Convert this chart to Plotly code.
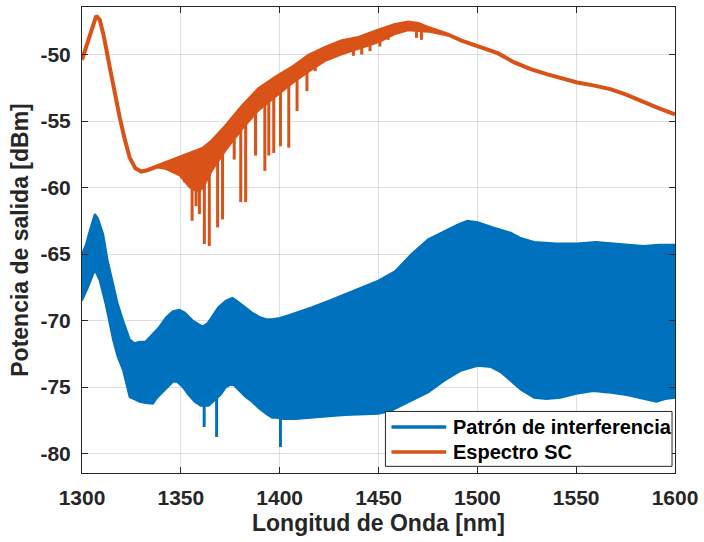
import numpy as np
import plotly.graph_objects as go

# ---------------- data ----------------
# Blue: interference pattern (dense fringes -> drawn as band between envelopes)
blue_up_x = [1300, 1302, 1304, 1306.5, 1308, 1310.7, 1313, 1315.8, 1318, 1320.8, 1324.1, 1326.5,
             1329.2, 1332, 1335.9, 1339, 1342.6, 1346, 1349.3, 1352, 1356, 1361, 1363.5, 1366.1,
             1369, 1372.8, 1376.1, 1379, 1382.8, 1386, 1389.5, 1393, 1396.2, 1400, 1404.6, 1416.4,
             1425, 1433.1, 1441, 1449.9, 1458.3, 1466.7, 1475.1, 1483.5, 1490, 1495, 1500.2, 1508,
             1516.9, 1522, 1528.7, 1540, 1550.5, 1560, 1567.3, 1575, 1584, 1592, 1600]
blue_up_y = [-65.0, -64.3, -63.2, -62.0, -62.3, -63.5, -65.5, -67.25, -68.7, -70.0, -71.4, -71.7,
             -71.6, -71.6, -71.0, -70.5, -69.75, -69.3, -69.2, -69.4, -70.0, -70.45, -70.2, -69.6,
             -69.0, -68.5, -68.3, -68.6, -69.0, -69.4, -69.7, -69.9, -69.9, -69.8, -69.6, -69.0,
             -68.5, -68.0, -67.5, -67.0, -66.3, -65.0, -63.9, -63.25, -62.8, -62.5, -62.6, -63.0,
             -63.4, -63.8, -64.1, -64.2, -64.2, -64.1, -64.2, -64.3, -64.4, -64.3, -64.3]
blue_lo_x = [1300, 1303, 1306.5, 1309, 1312, 1315.8, 1318, 1320.8, 1324.1, 1329.2, 1332, 1335.9,
             1338, 1342.6, 1346, 1348, 1351, 1354, 1357, 1360, 1364, 1370, 1372.8, 1376.1, 1379,
             1382.8, 1386, 1389.5, 1393, 1396.2, 1398.5, 1402, 1408, 1416.4, 1425, 1433.1, 1441,
             1449.9, 1456, 1462, 1475.1, 1483.5, 1491.9, 1500.3, 1506.9, 1512, 1516.9, 1522,
             1528.7, 1535, 1542, 1550, 1558.7, 1566, 1575.5, 1584, 1590.6, 1595, 1600]
blue_lo_y = [-68.5, -67.5, -66.2, -67.0, -68.8, -71.5, -72.7, -73.75, -75.75, -76.1, -76.2, -76.25,
             -75.8, -75.1, -74.6, -74.6, -75.0, -75.6, -76.1, -76.4, -76.4, -75.6, -75.0, -74.75,
             -75.2, -75.75, -76.1, -76.6, -77.0, -77.3, -77.3, -77.4, -77.4, -77.3, -77.2, -77.1,
             -77.05, -77.0, -76.8, -76.4, -75.4, -74.5, -73.75, -73.4, -73.5, -73.9, -74.5, -75.2,
             -75.8, -75.9, -75.8, -75.5, -75.3, -75.4, -75.6, -75.9, -76.1, -75.9, -75.8]
# narrow dips of the blue trace: wavelength, start level, bottom level
blue_dip_x = [1361.8, 1368.1, 1400.4]
blue_dip_from = [-76.2, -75.8, -77.2]
blue_dip_to = [-78.0, -78.75, -79.5]

# Orange: supercontinuum spectrum (top trace)
sc_x = [1300.0, 1302.0, 1304.5, 1307.2, 1309.0, 1311.0, 1314.1, 1316.5, 1319.1, 1321.5, 1324.1,
        1327.0, 1330.0, 1333.0, 1337.5, 1341.0, 1345.0, 1349.3, 1354.3, 1361.0, 1366.0, 1372.8,
        1381.2, 1389.5, 1397.9, 1406.3, 1414.7, 1423.1, 1431.5, 1439.9, 1449.9, 1458.0, 1465.0,
        1470.0, 1475.1, 1485.1, 1492.0, 1500.2, 1510.3, 1518.7, 1527.0, 1535.5, 1543.0, 1550.5,
        1558.0, 1567.3, 1575.0, 1582.4, 1591.0, 1600.0]
sc_y = [-50.4, -49.5, -48.3, -47.1, -47.4, -48.6, -51.0, -52.9, -54.75, -56.3, -57.75,
        -58.55, -58.8, -58.7, -58.45, -58.25, -58.0, -57.8, -57.55, -57.1, -56.5, -55.4,
        -53.9, -52.6, -51.75, -51.0, -50.1, -49.5, -49.0, -48.75, -48.2, -47.8, -47.6,
        -47.7, -48.0, -48.5, -48.95, -49.4, -49.9, -50.6, -51.1, -51.5, -51.8, -52.1,
        -52.3, -52.6, -53.0, -53.5, -54.0, -54.5]
# lower edge of the fringe region of the SC spectrum
sc_lo_x = [1337.5, 1342, 1346, 1349.3, 1354.3, 1358, 1361, 1366, 1372.8, 1381.2, 1389.5, 1397.9,
           1406.3, 1414.7, 1423.1, 1431.5, 1439.9, 1449.9, 1458, 1465, 1475.1, 1485.1]
sc_lo_y = [-58.5, -58.6, -58.9, -59.1, -60.0, -60.3, -60.1, -58.7, -57.2, -55.6, -54.2, -53.2,
           -52.2, -51.3, -50.5, -50.0, -49.6, -49.1, -48.5, -48.2, -48.3, -48.6]
# deep dips of the SC spectrum
sc_dip_x = [1351.8, 1355.7, 1357.7, 1359.4, 1361.9, 1364.4, 1368.6, 1371.1, 1377.0, 1380.3,
            1382.8, 1387.8, 1392.5, 1394.5, 1397.0, 1400.4, 1404.6, 1408.8, 1413.8, 1418.0,
            1437.3, 1441.5, 1445.7, 1450.7, 1454.9, 1469.2, 1471.7]
sc_dip_from = [-58.0, -57.6, -57.4, -57.3, -57.0, -56.8, -56.2, -55.7, -54.7, -54.1,
               -53.7, -52.9, -52.3, -52.1, -51.8, -51.5, -51.1, -50.7, -50.2, -49.8,
               -48.8, -48.6, -48.4, -48.2, -48.0, -47.6, -47.7]
sc_dip_to = [-59.6, -62.5, -61.4, -62.0, -64.25, -64.4, -63.0, -62.4, -57.9, -61.1,
             -61.1, -57.6, -58.75, -57.6, -57.4, -56.9, -57.0, -54.25, -52.75, -51.25,
             -50.1, -50.0, -49.75, -49.4, -48.9, -48.75, -48.9]

x_ticks = [1300, 1350, 1400, 1450, 1500, 1550, 1600]
y_ticks = [-80, -75, -70, -65, -60, -55, -50]
y_tick_text = ["-80", "-75", "-70", "-65", "-60", "-55", "-50"]
names = ["Patrón de interferencia", "Espectro SC"]
x_title = "Longitud de Onda [nm]"
y_title = "Potencia de salida [dBm]"

# ---------------- styling ----------------
BLUE = "#0072BD"
ORANGE = "#D95319"
AX = "#262626"
FONT = "Liberation Sans, Arial, sans-serif"


def segs(xs, a, b):
    X, Y = [], []
    for x, y0, y1 in zip(xs, a, b):
        X += [x, x, None]
        Y += [y0, y1, None]
    return X, Y


fig = go.Figure()

# blue band
fig.add_trace(go.Scatter(
    x=blue_up_x + blue_lo_x[::-1], y=blue_up_y + blue_lo_y[::-1],
    mode="lines", fill="toself", fillcolor=BLUE,
    line=dict(color=BLUE, width=2), showlegend=False, hoverinfo="skip"))
bx, by = segs(blue_dip_x, blue_dip_from, blue_dip_to)
fig.add_trace(go.Scatter(x=bx, y=by, mode="lines", line=dict(color=BLUE, width=3),
                         showlegend=False, hoverinfo="skip"))

# orange fringe region
sx = np.array(sc_x)
sy = np.array(sc_y)
m = (sx >= sc_lo_x[0]) & (sx <= sc_lo_x[-1])
fig.add_trace(go.Scatter(
    x=list(sx[m]) + sc_lo_x[::-1], y=list(sy[m]) + sc_lo_y[::-1],
    mode="lines", fill="toself", fillcolor=ORANGE,
    line=dict(color=ORANGE, width=1.5), showlegend=False, hoverinfo="skip"))
ox, oy = segs(sc_dip_x, sc_dip_from, sc_dip_to)
fig.add_trace(go.Scatter(x=ox, y=oy, mode="lines", line=dict(color=ORANGE, width=3),
                         showlegend=False, hoverinfo="skip"))
fig.add_trace(go.Scatter(x=sc_x, y=sc_y, mode="lines", line=dict(color=ORANGE, width=4),
                         showlegend=False, hoverinfo="skip"))

axis_common = dict(
    showline=True, linecolor=AX, linewidth=1, mirror="ticks",
    ticks="inside", ticklen=6, tickcolor=AX, tickwidth=1,
    showgrid=True, gridcolor="rgba(38,38,38,0.15)", gridwidth=1,
    zeroline=False,
    tickfont=dict(family=FONT, size=21, color=AX, weight="bold"),
)

fig.update_xaxes(range=[1300, 1600], tickvals=x_ticks, ticklabelstandoff=6,
                 title=dict(text=x_title, font=dict(family=FONT, size=23, color=AX, weight="bold"),
                            standoff=6),
                 **axis_common)
fig.update_yaxes(range=[-81.46, -46.43], tickvals=y_ticks, ticktext=y_tick_text,
                 ticklabelstandoff=6,
                 title=dict(text=y_title, font=dict(family=FONT, size=23, color=AX, weight="bold"),
                            standoff=5),
                 **axis_common)

# legend box (MATLAB style, drawn in plot-area coordinates)
LEG = dict(x0=0.5117, x1=0.995, y0=0.0143, y1=0.1321,
           sx0=0.5218, sx1=0.6141, tx=0.622, rows=[0.0985, 0.045])
shapes = [dict(type="rect", xref="paper", yref="paper", x0=LEG["x0"], x1=LEG["x1"],
               y0=LEG["y0"], y1=LEG["y1"], fillcolor="white", line=dict(color=AX, width=1),
               layer="above")]
annotations = []
for name, col, ry in zip(names, [BLUE, ORANGE], LEG["rows"]):
    shapes.append(dict(type="line", xref="paper", yref="paper", x0=LEG["sx0"], x1=LEG["sx1"],
                       y0=ry, y1=ry, line=dict(color=col, width=3.5), layer="above"))
    annotations.append(dict(text=name, xref="paper", yref="paper", x=LEG["tx"], y=ry,
                            xanchor="left", yanchor="middle", showarrow=False,
                            font=dict(family=FONT, size=20, color="black", weight="bold")))

fig.update_layout(
    width=704, height=542,
    margin=dict(l=82, r=26, t=6, b=69),
    paper_bgcolor="white", plot_bgcolor="white",
    showlegend=False,
    shapes=shapes, annotations=annotations,
)

fig.write_html("out.html", config={"displayModeBar": False},
               post_script="document.body.style.margin='0';")
